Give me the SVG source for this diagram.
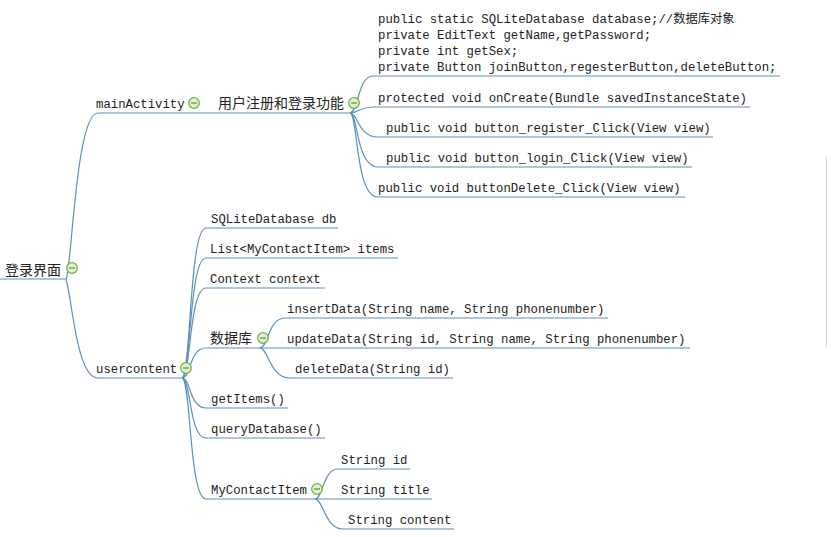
<svg xmlns="http://www.w3.org/2000/svg" width="831" height="537" viewBox="0 0 831 537">
<style>
.t{font-family:"Liberation Mono","Noto Sans CJK SC",monospace;font-size:12.3px;fill:#222}
.c{font-family:"Noto Sans CJK SC","Noto Sans",sans-serif;font-size:14px;fill:#222}
.l{fill:none;stroke:#5b8fbd;stroke-width:1.2}
</style>
<defs>
<g id="tog"><circle r="5.3" fill="#e2f1d3" stroke="#74b04a" stroke-width="1.3"/><line x1="-3" y1="0" x2="3" y2="0" stroke="#5f9c36" stroke-width="1.3"/></g>
</defs>
<rect width="831" height="537" fill="#fff"/>
<line x1="826.5" y1="157" x2="826.5" y2="347" stroke="#d4d4d4" stroke-width="1"/>
<g id="connectors" class="l">
<path d="M0 279 L66 279"/>
<path d="M66 280 C72 265 76 113 98 113 L205 113"/>
<path d="M66 280 C72 295 76 378 98 378 L182 378"/>
<path d="M205 113 L350 113"/>
<path d="M350 113 C358 113 358 76 373 76 L780 76"/>
<path d="M350 113 C358 113 360 107 373 107 L750 107"/>
<path d="M350 113 C358 113 358 137 378 137 L713 137"/>
<path d="M350 113 C358 113 356 167 378 167 L692 167"/>
<path d="M350 113 C358 113 355 197 378 197 L685 197"/>
<path d="M182 378 C191 378 189 228 206 228 L338 228"/>
<path d="M182 378 C191 378 189 258 206 258 L398 258"/>
<path d="M182 378 C191 378 189 288 206 288 L325 288"/>
<path d="M182 378 C191 378 189 348 206 348 L260 348"/>
<path d="M182 378 C191 378 189 408 206 408 L288 408"/>
<path d="M182 378 C191 378 189 438 206 438 L325 438"/>
<path d="M182 378 C191 378 189 499 206 499 L315 499"/>
<path d="M260 348 C268 348 268 318 285 318 L608 318"/>
<path d="M260 348 L690 348"/>
<path d="M260 348 C268 348 270 378 290 378 L453 378"/>
<path d="M315 499 C323 499 323 469 338 469 L410 469"/>
<path d="M315 499 L432 499"/>
<path d="M315 499 C323 499 325 529 343 529 L454 529"/>
</g>
<g id="root"><text class="c" x="5" y="275">登录界面</text><use href="#tog" x="72" y="268"/></g>
<g id="mainActivity"><text class="t" x="96" y="108">mainActivity</text><use href="#tog" x="194" y="103"/></g>
<g id="login"><text class="c" x="218" y="108">用户注册和登录功能</text><use href="#tog" x="354" y="103"/></g>
<g id="fields"><text class="t" x="378" y="23">public static SQLiteDatabase database;//数据库对象</text><text class="t" x="378" y="39">private EditText getName,getPassword;</text><text class="t" x="378" y="55">private int getSex;</text><text class="t" x="378" y="71">private Button joinButton,regesterButton,deleteButton;</text></g>
<g id="onCreate"><text class="t" x="378" y="102">protected void onCreate(Bundle savedInstanceState)</text></g>
<g id="register"><text class="t" x="386" y="132">public void button_register_Click(View view)</text></g>
<g id="loginClick"><text class="t" x="386" y="162">public void button_login_Click(View view)</text></g>
<g id="deleteClick"><text class="t" x="378" y="192">public void buttonDelete_Click(View view)</text></g>
<g id="usercontent"><text class="t" x="96" y="373">usercontent</text><use href="#tog" x="186" y="368"/></g>
<g id="db"><text class="t" x="211" y="223">SQLiteDatabase db</text></g>
<g id="items"><text class="t" x="210" y="253">List&lt;MyContactItem&gt; items</text></g>
<g id="context"><text class="t" x="210" y="283">Context context</text></g>
<g id="database"><text class="c" x="210" y="343">数据库</text><use href="#tog" x="263" y="338"/></g>
<g id="insert"><text class="t" x="287" y="313">insertData(String name, String phonenumber)</text></g>
<g id="update"><text class="t" x="287" y="343">updateData(String id, String name, String phonenumber)</text></g>
<g id="delete"><text class="t" x="295" y="373">deleteData(String id)</text></g>
<g id="getItems"><text class="t" x="211" y="403">getItems()</text></g>
<g id="query"><text class="t" x="211" y="433">queryDatabase()</text></g>
<g id="myContactItem"><text class="t" x="211" y="494">MyContactItem</text><use href="#tog" x="317" y="489"/></g>
<g id="sid"><text class="t" x="341" y="464">String id</text></g>
<g id="stitle"><text class="t" x="341" y="494">String title</text></g>
<g id="scontent"><text class="t" x="348" y="524">String content</text></g>
</svg>
